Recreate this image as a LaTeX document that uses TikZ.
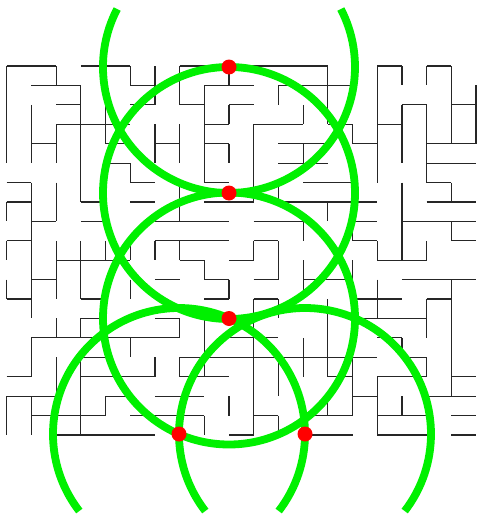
\documentclass[tikz,border=0pt]{standalone}
\usepackage{tikz}
\definecolor{ringgreen}{RGB}{0,240,0}
\definecolor{dotred}{RGB}{255,0,0}

\begin{document}
\begin{tikzpicture}[
    x=1pt, y=-1pt,
    wall/.style={draw=black!85, line width=1.2pt},
    ring/.style={draw=ringgreen, line width=7.8pt},
    dot/.style={fill=dotred}
  ]
    \useasboundingbox (0,0) rectangle (478,514);
    \begin{scope}[xshift=6.7pt, yshift=-66pt, x=24.7pt, y=-19.42pt]
      \foreach \r/\a/\b in {0/0/2, 0/3/5, 0/7/13, 0/15/16, 0/17/18,
          1/1/3, 1/5/6, 1/8/10, 1/11/14,
          2/2/3, 2/5/6, 2/7/8, 2/9/10, 2/16/17, 2/18/19,
          3/2/5, 3/8/9, 3/10/12, 3/13/14, 3/15/16,
          4/1/2, 4/4/5, 4/6/7, 4/8/9, 4/11/13, 4/14/15, 4/17/19,
          5/4/5, 5/11/13, 5/17/19,
          6/0/1, 6/5/6, 6/8/9, 6/12/14, 6/17/18,
          7/0/1, 7/3/4, 7/5/6, 7/8/10, 7/11/15, 7/17/19,
          8/1/2, 8/3/4, 8/6/9, 8/10/12, 8/14/15, 8/16/19,
          9/0/1, 9/6/9, 9/10/11, 9/14/15, 9/18/19,
          10/2/5, 10/7/8, 10/9/10, 10/15/17,
          11/1/2, 11/6/7, 11/8/9, 11/10/11, 11/12/14, 11/16/19,
          12/0/1, 12/3/4, 12/8/9, 12/10/11, 12/14/16, 12/17/18,
          13/3/4, 13/6/7, 13/14/17,
          14/1/7, 14/9/11, 14/15/16,
          15/3/4, 15/7/15, 15/16/17,
          16/0/1, 16/3/6, 16/7/9, 16/13/14, 16/15/17, 16/18/19,
          17/0/2, 17/4/5, 17/6/8, 17/14/15, 17/17/19,
          18/1/4, 18/5/8, 18/10/11, 18/12/14, 18/15/17, 18/18/19,
          19/2/6, 19/9/10, 19/12/14, 19/15/17, 19/18/19}
        \draw[wall] (\a,\r) -- (\b,\r);
      \foreach \c/\a/\b in {0/0/5, 0/7/8, 0/9/10, 0/11/12, 0/17/19,
          1/2/5, 1/6/13, 1/14/16, 1/17/19,
          2/0/1, 2/3/5, 2/6/8, 2/9/12, 2/13/14, 2/15/17,
          3/1/7, 3/9/12, 3/13/14, 3/15/19,
          4/2/4, 4/9/10, 4/17/18,
          5/0/1, 5/5/6, 5/9/10, 5/11/12, 5/14/15,
          6/0/2, 6/3/5, 6/9/10, 6/15/16,
          7/0/2, 7/3/5, 7/6/8, 7/9/10, 7/13/14, 7/15/16,
          8/1/6, 8/10/11, 8/13/16, 8/18/19,
          9/0/1, 9/2/3, 9/4/5, 9/11/12, 9/17/18,
          10/3/7, 10/9/10, 10/12/19,
          11/1/2, 11/6/7, 11/9/11, 11/12/13, 11/15/17, 11/18/19,
          12/2/3, 12/4/5, 12/8/9, 12/10/12, 12/14/16,
          13/0/3, 13/7/8, 13/12/16, 13/17/18,
          14/3/4, 14/7/9, 14/10/11, 14/15/18,
          15/0/6, 15/9/10, 15/11/13, 15/16/19,
          16/0/1, 16/2/5, 16/6/10, 16/14/15, 16/17/18,
          17/0/1, 17/2/6, 17/9/10, 17/12/14, 17/15/16,
          18/0/4, 18/6/7, 18/8/9, 18/11/17,
          19/1/4}
        \draw[wall] (\c,\a) -- (\c,\b);
    \end{scope}
    \coordinate (a) at (229,67);
    \coordinate (b) at (229,193);
    \coordinate (c) at (229,318.5);
    \coordinate (d) at (179,434);
    \coordinate (e) at (305,434);
    \draw[ring] ([shift={(207.4:126)}]a) arc[start angle=207.4, end angle=-27.4, radius=126];
    \draw[ring] (b) circle[radius=126];
    \draw[ring] (c) circle[radius=126];
    \draw[ring] ([shift={(142.3:126)}]d) arc[start angle=142.3, end angle=397.7, radius=126];
    \draw[ring] ([shift={(142.3:126)}]e) arc[start angle=142.3, end angle=397.7, radius=126];
    \foreach \p in {a,b,c,d,e}
      \fill[dot] (\p) circle[radius=7.5];
  \end{tikzpicture}
\end{document}
